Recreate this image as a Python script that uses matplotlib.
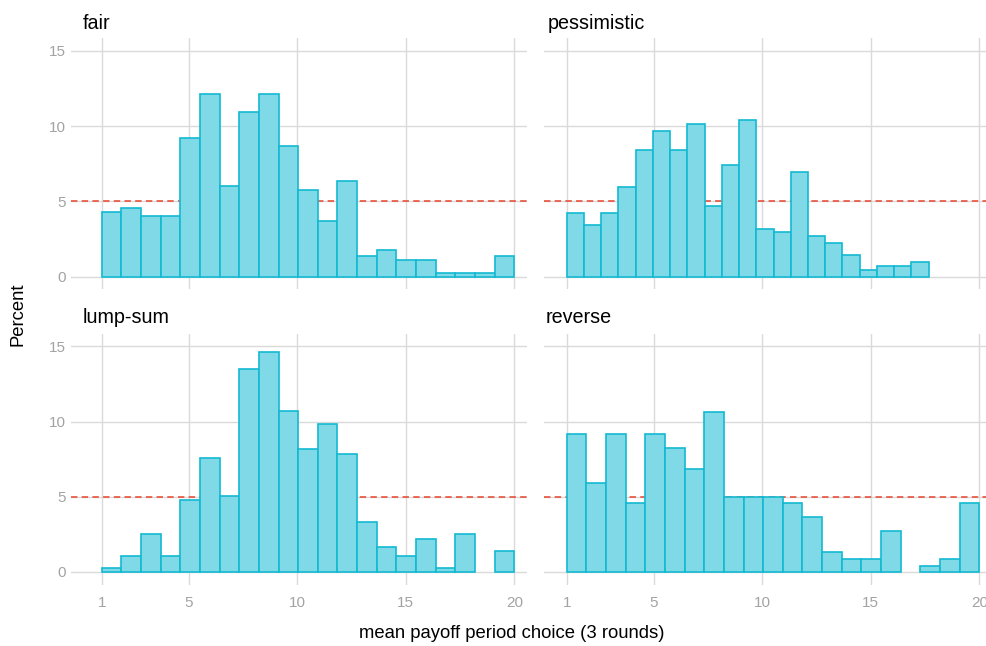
import numpy as np
import matplotlib.pyplot as plt

plt.rcParams['font.family'] = ['Liberation Sans', 'DejaVu Sans']

# percent of choices per bin (21 bins per panel)
fair = [4.32, 4.59, 4.01, 4.01, 9.24, 12.12, 6.05, 10.97, 12.12, 8.66, 5.74,
        3.72, 6.34, 1.40, 1.75, 1.13, 1.13, 0.27, 0.27, 0.27, 1.40]
pessimistic = [4.21, 3.46, 4.21, 5.94, 8.44, 9.68, 8.44, 10.17, 4.72, 7.45, 10.44,
               3.19, 2.95, 6.94, 2.70, 2.22, 1.46, 0.47, 0.73, 0.73, 0.95]
lump_sum = [0.24, 1.09, 2.50, 1.09, 4.76, 7.56, 5.03, 13.47, 14.60, 10.68, 8.15,
            9.82, 7.84, 3.35, 1.64, 1.09, 2.22, 0.24, 2.50, 0.0, 1.37]
reverse = [9.17, 5.94, 9.17, 4.56, 9.17, 8.26, 6.87, 10.66, 5.01, 5.01, 5.01,
           4.56, 3.63, 1.33, 0.86, 0.86, 2.70, 0.0, 0.40, 0.86, 4.56]

panels = ['fair', 'pessimistic', 'lump-sum', 'reverse']
values = [fair, pessimistic, lump_sum, reverse]
ranges = [(1, 20), (1, 53 / 3), (1, 20), (1, 20)]   # data range of each panel
uniform_pct = 5          # 100 / 20 periods
xticks = [1, 5, 10, 15, 20]
yticks = [0, 5, 10, 15]

fill = '#80d9e6'
edge = '#12b9d2'
grid_col = '#dadada'
tick_col = '#a3a3a3'

W, H = 987, 646
fig = plt.figure(figsize=(W / 100, H / 100), dpi=100)

# panel boxes in pixels: left, top, right, bottom
boxes = [(71, 38.3, 527, 289.3), (544, 38.3, 992, 289.3),
         (71, 333.7, 527, 584.6), (544, 333.7, 992, 584.6)]
xlims = [(-0.413, 20.585), (-0.045, 20.585), (-0.413, 20.585), (-0.045, 20.585)]
title_pos = [(83, 29.3), (547.7, 29.3), (83, 322.7), (545.5, 322.7)]

for i, (name, vals, (lo, hi)) in enumerate(zip(panels, values, ranges)):
    l, t, r, b = boxes[i]
    ax = fig.add_axes([l / W, 1 - b / H, (r - l) / W, (b - t) / H])
    edges = np.linspace(lo, hi, len(vals) + 1)
    vals = np.array(vals)
    keep = vals > 0
    ax.set_axisbelow(True)
    ax.grid(True, color=grid_col, lw=1.0)
    ax.axhline(uniform_pct, color='#e8432c', lw=1.1, ls=(0, (4.2, 2.8)), zorder=1)
    ax.bar(edges[:-1][keep], vals[keep], width=np.diff(edges)[keep], align='edge',
           color=fill, edgecolor=edge, linewidth=1.2, zorder=2)
    ax.set_xlim(*xlims[i])
    ax.set_ylim(-0.84, 15.84)
    ax.set_xticks(xticks)
    ax.set_yticks(yticks)
    for s in ax.spines.values():
        s.set_visible(False)
    ax.tick_params(length=0, colors=tick_col, labelsize=11)
    ax.tick_params(axis='y', pad=3.6)
    ax.tick_params(axis='x', pad=8.5)
    if i % 2 == 1:
        ax.tick_params(axis='y', labelleft=False)
    if i < 2:
        ax.tick_params(axis='x', labelbottom=False)
    tx, ty = title_pos[i]
    fig.text(tx / W, 1 - ty / H, name, fontsize=14.2, color='black',
             ha='left', va='baseline')

fig.text(512 / W, 1 - 638 / H, 'mean payoff period choice (3 rounds)',
         fontsize=13.3, ha='center', va='baseline')
fig.text(18.5 / W, 1 - 314 / H, 'Percent', fontsize=13.3, rotation=90,
         ha='center', va='center')

fig.savefig('out.png', dpi=100)
